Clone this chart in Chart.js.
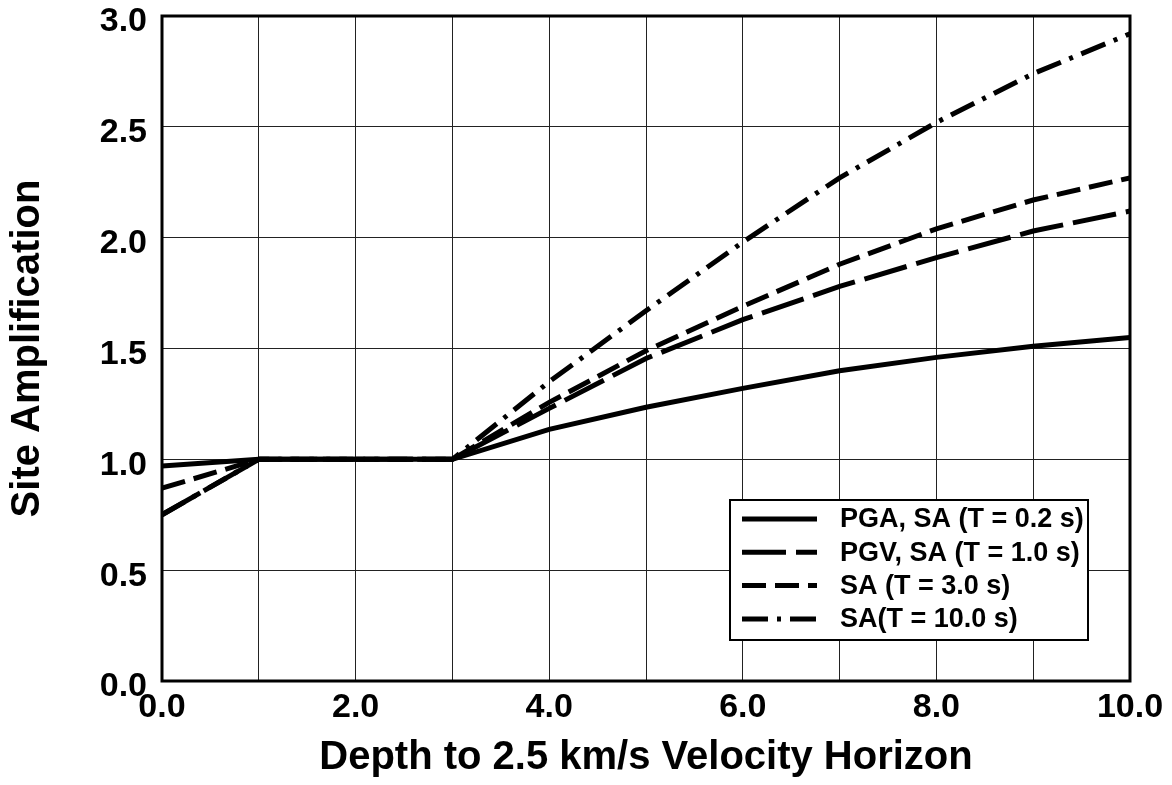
<!DOCTYPE html>
<html>
<head>
<meta charset="utf-8">
<title>Site Amplification vs Depth</title>
<script src="https://cdn.jsdelivr.net/npm/chart.js@4.4.1/dist/chart.umd.min.js"></script>
<style>
  html, body { margin: 0; padding: 0; background: #fff; }
  #wrap { width: 1172px; height: 785px; position: relative; }
</style>
</head>
<body>
<div id="wrap"><canvas id="ampChart"></canvas></div>
<script>
// depth to 2.5 km/s horizon (km) and amplification
const depths = [0, 1, 2, 3, 4, 5, 6, 7, 8, 9, 10];
const pgaValues = [0.97, 1.0, 1.0, 1.0, 1.135, 1.235, 1.32, 1.40, 1.46, 1.51, 1.55];
const pgvValues = [0.75, 1.0, 1.0, 1.0, 1.23, 1.455, 1.63, 1.78, 1.91, 2.03, 2.12];
const sa3Values = [0.87, 1.0, 1.0, 1.0, 1.257, 1.49, 1.69, 1.88, 2.04, 2.17, 2.27];
const sa10Values = [0.75, 1.0, 1.0, 1.0, 1.35, 1.67, 1.98, 2.27, 2.52, 2.74, 2.92];
const seriesLabels = ['PGA, SA (T = 0.2 s)', 'PGV, SA (T = 1.0 s)', 'SA (T = 3.0 s)', 'SA(T = 10.0 s)'];
const xTickLabels = ['0.0', '', '2.0', '', '4.0', '', '6.0', '', '8.0', '', '10.0'];

(function () {
  'use strict';

  const FONT = '"Liberation Sans", Arial, Helvetica, sans-serif';
  const dashes = [[], [44, 10], [24, 9], [26, 9, 4, 9]];

  function toPoints(vals) {
    return depths.map(function (d, i) { return { x: d, y: vals[i] }; });
  }

  // thick frame round the plot area
  const frame = {
    id: 'frame',
    afterDatasetsDraw: function (chart) {
      const a = chart.chartArea;
      const ctx = chart.ctx;
      ctx.save();
      ctx.strokeStyle = '#000';
      ctx.lineWidth = 3;
      ctx.strokeRect(a.left, a.top, a.right - a.left, a.bottom - a.top);
      ctx.restore();
    }
  };

  // boxed legend sitting inside the plot, lower right
  const boxLegend = {
    id: 'boxLegend',
    afterDraw: function (chart) {
      const ctx = chart.ctx;
      const box = { x: 730, y: 500, w: 358, h: 140 };
      ctx.save();
      ctx.fillStyle = '#fff';
      ctx.fillRect(box.x, box.y, box.w, box.h);
      ctx.strokeStyle = '#000';
      ctx.lineWidth = 2;
      ctx.strokeRect(box.x, box.y, box.w, box.h);
      ctx.font = 'bold 27px ' + FONT;
      ctx.textBaseline = 'middle';
      ctx.fillStyle = '#000';
      chart.data.datasets.forEach(function (ds, i) {
        const y = 519 + i * 33.3;
        ctx.beginPath();
        ctx.setLineDash(ds.borderDash || []);
        ctx.lineWidth = 5;
        ctx.moveTo(742, y);
        ctx.lineTo(817, y);
        ctx.stroke();
        ctx.setLineDash([]);
        ctx.fillText(ds.label, 840, y + 1);
      });
      ctx.restore();
    }
  };

  function buildDatasets() {
    const all = [pgaValues, pgvValues, sa3Values, sa10Values];
    return all.map(function (vals, i) {
      return {
        label: seriesLabels[i],
        data: toPoints(vals),
        borderColor: '#000',
        borderWidth: 5,
        borderDash: dashes[i],
        borderCapStyle: 'butt',
        pointRadius: 0,
        tension: 0,
        fill: false
      };
    });
  }

  function initChart() {
    const el = document.getElementById('ampChart');
    new Chart(el, {
      type: 'line',
      data: { datasets: buildDatasets() },
      options: {
        responsive: true,
        maintainAspectRatio: false,
        animation: false,
        layout: { padding: { top: 16, right: 42, left: 0, bottom: 0 } },
        plugins: { legend: { display: false }, tooltip: { enabled: false } },
        scales: {
          x: {
            type: 'linear',
            min: 0,
            max: 10,
            border: { display: false },
            grid: { color: '#222', lineWidth: 1, drawTicks: false },
            ticks: {
              stepSize: 1,
              autoSkip: false,
              maxRotation: 0,
              padding: 10,
              color: '#000',
              font: { family: FONT, size: 34, weight: 'bold', lineHeight: 1.0 },
              callback: function (v, i) { return xTickLabels[i] !== undefined ? xTickLabels[i] : ''; }
            },
            title: {
              display: true,
              text: 'Depth to 2.5 km/s Velocity Horizon',
              color: '#000',
              font: { family: FONT, size: 40, weight: 'bold' },
              padding: { top: 0, bottom: 3 }
            },
            afterFit: function (s) {
              s.height = 104;
              s.paddingLeft = 0;
              s.paddingRight = 0;
            }
          },
          y: {
            min: 0,
            max: 3,
            border: { display: false },
            grid: { color: '#222', lineWidth: 1, drawTicks: false },
            ticks: {
              stepSize: 0.5,
              padding: 15,
              labelOffset: 6,
              color: '#000',
              font: { family: FONT, size: 34, weight: 'bold', lineHeight: 1.0 },
              callback: function (v) { return Number(v).toFixed(1); }
            },
            title: {
              display: true,
              text: 'Site Amplification',
              color: '#000',
              font: { family: FONT, size: 40, weight: 'bold' },
              padding: { top: 4, bottom: 0 }
            },
            afterFit: function (s) {
              s.width = 162;
              s.paddingTop = 0;
              s.paddingBottom = 0;
            }
          }
        }
      },
      plugins: [frame, boxLegend]
    });
  }

  document.addEventListener('DOMContentLoaded', initChart);
})();
</script>
</body>
</html>
